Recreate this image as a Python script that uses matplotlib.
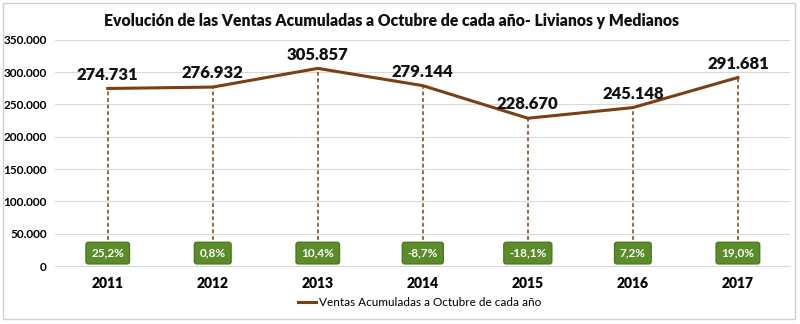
import matplotlib
matplotlib.use("Agg")
import matplotlib.pyplot as plt
from matplotlib.patches import Rectangle

years = ["2011", "2012", "2013", "2014", "2015", "2016", "2017"]
ventas = [274731, 276932, 305857, 279144, 228670, 245148, 291681]
ventas_labels = ["274.731", "276.932", "305.857", "279.144", "228.670", "245.148", "291.681"]
variacion = ["25,2%", "0,8%", "10,4%", "-8,7%", "-18,1%", "7,2%", "19,0%"]
yticks = [0, 50000, 100000, 150000, 200000, 250000, 300000, 350000]
ytick_labels = ["0", "50.000", "100.000", "150.000", "200.000", "250.000", "300.000", "350.000"]

plt.rcParams['font.family'] = ['Lato', 'DejaVu Sans']

fig = plt.figure(figsize=(8, 3.24), dpi=100)
fig.patches.append(Rectangle((0.004, 0.015), 0.99, 0.975, transform=fig.transFigure,
                             fill=False, edgecolor="#d0d0d0", linewidth=1))
ax = fig.add_axes([0.069, 0.179, 0.919, 0.698])

x = list(range(len(years)))
line_color = "#7b3f12"
ax.plot(x, ventas, color=line_color, linewidth=2.2, zorder=3, label="Ventas Acumuladas a Octubre de cada año")

badge_y = 20000
for xi, v, lab, var in zip(x, ventas, ventas_labels, variacion):
    ax.plot([xi, xi], [badge_y, v], color=line_color, linestyle=(0, (2.5, 1.8)), linewidth=1.1, zorder=2)
    ax.text(xi, v + 9000, lab, ha="center", va="bottom", fontsize=12, fontweight="heavy", color="#111111")
    ax.text(xi, badge_y, var, ha="center", va="center", fontsize=8.5, fontweight="bold", color="white", zorder=4,
            bbox=dict(boxstyle="round,pad=0.45,rounding_size=0.2", facecolor="#5b8c2a", edgecolor="#4a7a20"))

ax.set_xlim(-0.5, len(years) - 0.5)
ax.set_ylim(0, 350000)
ax.set_yticks(yticks)
ax.set_yticklabels(ytick_labels, fontsize=8.5, fontweight="bold")
ax.set_xticks(x)
ax.set_xticklabels(years, fontsize=10, fontweight="heavy")
ax.tick_params(axis="x", length=0, pad=8)
ax.tick_params(axis="y", length=0, pad=6)
ax.grid(axis="y", color="#d9d9d9", linewidth=0.8)
ax.set_axisbelow(True)
for s in ["top", "right", "left"]:
    ax.spines[s].set_visible(False)
ax.spines["bottom"].set_color("#d9d9d9")

fig.text(0.49, 0.935, "Evolución de las Ventas Acumuladas a Octubre de cada año- Livianos y Medianos",
         ha="center", va="center", fontsize=11.3, fontweight="heavy", color="#111111")

leg = fig.legend(handles=ax.get_lines()[:1], loc="center", bbox_to_anchor=(0.525, 0.065), frameon=False,
                 fontsize=8.5, handlelength=1.5, handletextpad=0.3)

fig.savefig("out.png", dpi=100)
